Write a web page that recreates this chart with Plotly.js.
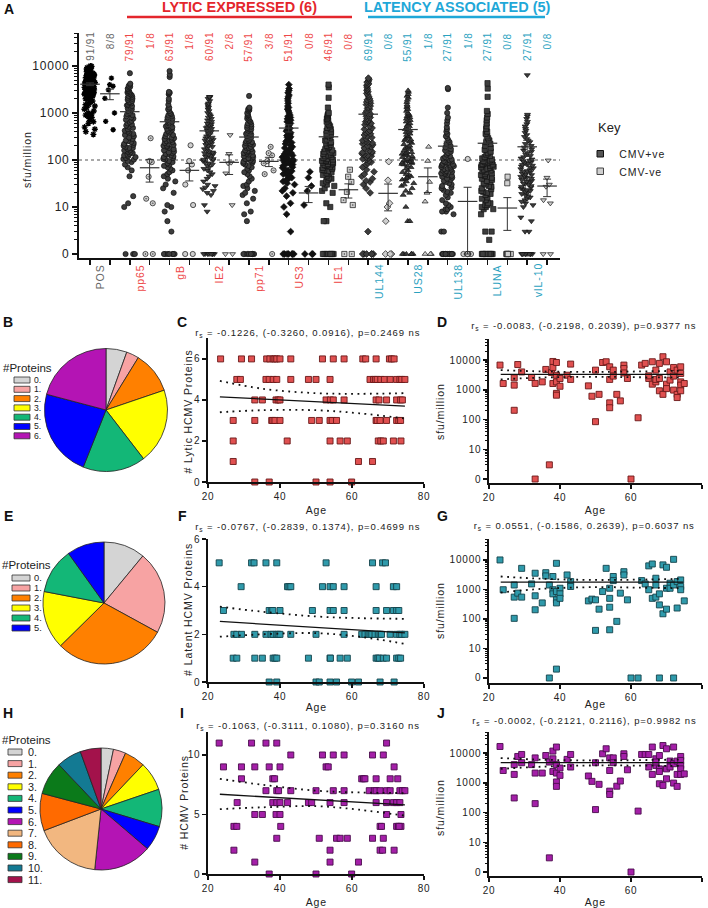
<!DOCTYPE html>
<html><head><meta charset="utf-8">
<script src="https://cdn.plot.ly/plotly-3.0.1.min.js"></script>
<style>
html,body{margin:0;padding:0;background:#fff;}
#chart{width:708px;height:908px;}
g[class$="tick"] > text{letter-spacing:0.8px;}
</style>
</head><body><div id="chart"></div>
<script>
// ---------------- DATA ----------------
const groups = ['POS','pp65','gB','IE2','pp71','US3','IE1','UL144','US28','UL138','LUNA','vIL-10'];
const posCounts = ['91/91','79/91','63/91','60/91','57/91','51/91','46/91','69/91','55/91','27/91','27/91','27/91'];
const negCounts = ['8/8','1/8','1/8','2/8','3/8','0/8','0/8','0/8','1/8','1/8','0/8','0/8'];

const POS_pos = [10000,9800,9500,9200,9000,8800,8600,8400,8200,8000,7800,7600,7400,7200,7000,6800,6600,6500,6400,6200,6000,5900,5800,5600,5500,5400,5200,5100,5000,4900,4800,4700,4600,4500,4400,4300,4200,4100,4000,3900,3800,3700,3600,3500,3400,3300,3200,3100,3000,3000,2900,2800,2700,2600,2500,2500,2400,2300,2200,2100,2000,2000,1900,1800,1700,1600,1500,1400,1300,1200,1100,1000,950,900,850,800,700,650,600,500,450,400,350,6300,5700,4400,3600,2800,3300,2600,1500];
const POS_neg = [5500,4000,3700,3100,2040,1000,660,440];
const pp65_pos = [7000,4200,4000,3800,3600,3500,3300,3200,3000,2900,2800,2700,2600,2500,2400,2300,2200,2100,2000,1900,1800,1700,1650,1600,1500,1450,1400,1300,1250,1200,1100,1050,1000,950,900,850,800,760,720,680,640,600,570,540,510,480,450,420,400,380,360,340,320,300,280,260,250,240,230,220,210,200,190,180,170,160,150,145,140,135,130,125,120,115,110,105,102,180,160,95,90,80,70,60,45,17,12,10,0,0,0];
const pp65_neg = [290,95,90,44,15,12,0,0];
const gB_pos = [7800,6500,5800,2800,2700,2600,2500,2000,1800,1500,1300,1200,1100,1000,950,900,850,800,750,700,650,620,600,580,550,520,500,480,460,440,420,400,380,360,340,320,300,290,280,270,260,250,240,230,220,210,200,190,180,170,160,150,145,140,135,130,125,120,115,110,105,102,200,95,90,85,80,75,70,65,60,55,50,45,40,35,30,25,20,11,10,8,5,3,0,0,0,0,0,0,0];
const gB_neg = [205,95,80,60,30,11,0,0];
const IE2_pos = [2200,2200,2100,2000,1800,1600,1500,1400,1300,1200,1100,1000,950,900,850,800,750,700,650,600,580,560,540,520,500,480,460,440,420,400,380,360,340,320,300,290,280,270,260,250,240,230,220,210,200,190,180,170,160,150,145,140,135,130,125,120,115,110,105,102,98,95,90,85,80,75,70,65,60,55,50,45,40,35,30,28,26,24,22,20,18,11,8,0,0,0,0,0,0,0,0];
const IE2_neg = [340,135,88,85,52,11,0,0];
const pp71_pos = [2300,1300,1250,1200,1150,1100,1000,950,900,850,800,760,720,680,640,600,570,540,510,480,450,420,400,380,360,340,320,300,285,270,255,240,230,220,210,200,190,180,170,160,155,150,145,140,135,130,125,120,115,110,108,105,102,250,350,450,180,98,95,92,88,85,80,75,70,65,60,55,50,45,40,35,30,28,25,22,20,18,15,12,8,7,5,0,0,0,0,0,0,0,0];
const pp71_neg = [190,140,125,95,85,60,50,0];
const US3_pos = [4000,3300,3000,2700,2400,2200,2000,1800,1600,1400,1300,1200,1100,1000,900,850,800,750,700,650,600,550,500,470,440,410,380,350,330,310,290,270,250,235,220,205,190,180,170,160,150,140,135,130,125,120,115,110,105,102,300,98,95,92,90,88,85,82,80,75,70,68,65,60,58,55,52,50,48,45,42,40,38,35,32,30,25,22,20,17,12,10,7,3,0,0,0,0,0,0,0];
const US3_neg = [56,42,28,22,11,0,0,0];
const IE1_pos = [4000,3500,2100,1300,1000,950,900,850,800,750,700,650,600,560,520,480,450,420,390,360,340,320,300,280,260,240,225,210,200,190,180,170,160,150,145,140,135,130,125,120,115,110,105,102,230,330,98,96,94,92,90,88,85,82,80,78,75,72,70,68,65,62,60,58,55,52,50,48,45,42,40,38,35,32,30,28,25,22,20,12,10,5,5,0,0,0,0,0,0,0,0];
const IE1_neg = [62,44,34,21,14,11,0,0];
const UL144_pos = [5500,5200,4800,4500,4200,4000,3800,3500,3200,3000,2800,2600,2400,2200,2000,1900,1800,1700,1600,1500,1400,1300,1200,1100,1000,950,900,850,800,750,700,650,600,560,520,480,450,420,400,380,360,340,320,300,280,260,250,240,230,220,210,200,190,180,170,160,150,145,140,135,130,125,120,115,110,105,102,1250,650,95,90,85,80,70,62,56,50,45,40,36,34,30,25,20,3,0,0,0,0,0,0];
const UL144_neg = [92,37,12,10,5,0,0,0];
const US28_pos = [3000,2800,2500,2300,2100,1900,1700,1500,1400,1300,1200,1100,1000,950,900,850,800,750,700,650,600,560,520,480,450,420,390,360,340,320,300,280,260,245,230,215,200,190,180,170,160,150,145,140,135,130,125,120,115,110,105,102,400,550,270,98,95,92,90,88,85,82,80,75,70,65,60,55,50,48,45,42,40,38,35,32,30,28,25,22,20,18,10,5,5,0,0,0,0,0,0];
const US28_neg = [190,95,34,20,13,0,0,0];
const UL138_pos = [3400,3200,1300,1000,800,700,600,500,450,400,360,320,290,260,240,220,200,185,170,160,150,140,130,120,115,108,103,98,95,93,90,88,85,83,80,78,76,74,71,69,66,64,62,60,58,56,54,52,50,48,46,44,42,40,38,36,34,32,30,28,26,25,23,21,20,18,16,14,12,11,10,9,9,8,8,7,3,3,0,0,0,0,0,0,0,0,0,0,0,0,0];
const UL138_neg = [105,0,0,0,0,0,0,0];
const LUNA_pos = [4300,3300,2200,1100,950,800,700,600,520,460,400,360,320,290,260,240,220,200,180,165,150,140,130,122,115,108,103,98,95,92,90,88,85,82,80,78,75,72,70,68,65,62,60,58,55,52,50,48,46,44,42,40,38,36,34,32,30,28,27,25,24,22,21,20,19,18,16,15,14,12,12,11,11,10,10,9,9,7,3,3,2,0,0,0,0,0,0,0,0,0,0];
const LUNA_neg = [44,32,0,0,0,0,0,0];
const vIL10_pos = [6400,920,850,750,650,580,520,460,420,380,340,310,280,260,240,220,200,185,170,160,150,140,130,122,115,108,103,97,94,91,88,85,82,79,76,73,70,67,64,61,58,55,52,50,48,46,44,42,40,38,36,34,32,30,28,26,25,24,23,22,21,20,19,18,17,16,15,14,13,12,11,10,6,5,3,3,27,31,35,43,57,0,0,0,0,0,0,0,0,0,0];
const vIL10_neg = [98,42,30,27,14,12,0,0];

const posData = [POS_pos,pp65_pos,gB_pos,IE2_pos,pp71_pos,US3_pos,IE1_pos,UL144_pos,US28_pos,UL138_pos,LUNA_pos,vIL10_pos];
const negData = [POS_neg,pp65_neg,gB_neg,IE2_neg,pp71_neg,US3_neg,IE1_neg,UL144_neg,US28_neg,UL138_neg,LUNA_neg,vIL10_neg];

// pies: number of donors responding to n proteins
const lyticPie = [5,3,10,18,15,21,19];
const latentPie = [10,20,27,14,11,9];
const totalPie = [3,3,5,7,9,6,14,16,9,8,6,5];

// C / F / I : ages grouped by number of proteins recognised
const lyticAgesByCount = [
 [33,37,50,53.9,59.9],
 [27,61.8,65.7],
 [27,42,53.9,56.7,58.7,67.3,68,68.7,71.5,73.6],
 [27,33,37.7,38,38.6,40,48.8,50.9,53.9,54.5,55.7,66.7,67,67.8,69.6,72.4,73,73.5],
 [33,35.1,38.9,39.5,40,52.8,54,54.8,57.8,66.7,67.5,69.6,72.4,73.5,74],
 [28,29,36.1,37,38.1,39.1,43,47.9,50,53.9,65,66,66.5,67,68,69,70.6,72.4,73.3,73.8,74.7],
 [23.5,29.3,32.1,36.3,37.2,38.1,38.6,39.1,40,43,51.8,54.8,57.8,63,63.8,66.7,70.4,71,71.7]
];
const latentAgesByCount = [
 [37,39.1,50,50.9,53.9,55.7,59.9,61.8,67.8,71.7],
 [27,28,33,35.1,38.1,38.6,39.1,47.9,53.9,54,56.7,58.7,66.7,67.2,67.6,68.7,69.6,72.4,73,73.5],
 [27.2,28,29.3,33,36.1,37.5,38.1,39.1,39.5,40,43,50,57.8,62.7,63.6,64.5,65,65.5,66.4,67.3,67.8,68.2,70.6,72.4,73.3,73.8,74.7],
 [24.3,37,37.7,38,40,49,53.9,54.8,57.8,66.7,69.6,71.5,72.4,73],
 [29.2,42.1,42.5,43,51.8,53.9,54.8,57.8,66.7,71.5,72.4],
 [23.1,32.1,32.8,36.1,39.1,52.8,65.7,68.5,69.3]
];
const totalAgesByCount = [
 [37,50,59.9],
 [33,53.9,61.8],
 [27.2,53.9,67.8,71.7,68.5],
 [39.1,50.9,55.7,56.7,58.7,65.7,68.7],
 [27.2,67.8,72.4,73.6,72.9,68.2,28,40.2,73.1],
 [33,35.1,38.9,40,69.6,73.6],
 [28.1,38,39.1,40,42.1,47.9,48.8,53.9,57.8,66.7,69.6,71.5,72.4,73.3],
 [36.1,39.1,39.6,43,50,54.8,57.8,64.8,66.2,66.7,67.8,69.6,70.6,73.3,74,74.7],
 [29.3,38,38.5,62.7,63.2,63.6,66.7,70.6,72.7],
 [24.3,29.3,33,37,40,52.8,53.4,71.7],
 [43,51.8,54.8,57.8,65.7,68.7],
 [23.1,32.1,36.1,39.1,69.6]
];

// D / G / J : [age, sfu/million]
const lyticSfu = [[23.1,6800],[24,1630],[27.1,2530],[27.1,1440],[27.1,205],[28.1,7100],[29.2,4000],[32,2600],[33,1640],[33,0],[35,1850],[36,4850],[37,3],[37.6,3850],[38,9000],[38,5650],[38,1630],[39,8300],[39,3100],[39,1850],[39,760],[39,660],[40,2410],[40,1320],[42,3100],[43,7350],[43,2240],[48,1360],[49,610],[50,4600],[50,85],[51,705],[52,8300],[53,8800],[54,5950],[54,2240],[54,365],[54,250],[55,4600],[55,2900],[56,705],[57,425],[58,6800],[58,5200],[58,3700],[59,2410],[60,0],[62,115],[63,6800],[64,7750],[65,2410],[65,2960],[66,8800],[66,1550],[67,4600],[67,1850],[67,2240],[68,7750],[68,2410],[68,930],[69,13000],[69,705],[70,8800],[70,1550],[70,1100],[71,4000],[71,2130],[72,5650],[72,980],[72,2900],[73,4600],[73,705],[73,550],[74,5950],[74,3550],[74,1850],[74,1440],[74,930],[75,1630]];
const latentSfu = [[23.1,10000],[24,980],[27.1,1420],[27.1,550],[27.1,105],[28.1,750],[29.2,5200],[29.2,550],[32,1540],[33,3550],[33,610],[33,205],[35,350],[36,3700],[36,2880],[37,1420],[37,0],[38,2750],[38,980],[38,710],[39,7700],[39,850],[39,445],[39,350],[39,2],[40,1100],[40,710],[40,500],[42,3100],[43,1850],[43,1260],[48,410],[49,470],[50,445],[50,41],[51,215],[52,850],[53,5200],[54,1100],[54,500],[54,250],[54,43],[55,2750],[55,2000],[56,83],[57,750],[58,4000],[58,3100],[59,445],[60,0],[62,0],[63,2000],[64,1540],[65,6300],[65,980],[66,7300],[66,500],[67,2400],[67,1420],[67,550],[68,710],[68,300],[68,0],[69,6800],[69,150],[70,5650],[70,1100],[70,215],[71,1630],[71,1100],[72,10500],[72,1420],[72,0],[73,1850],[73,235],[74,2100],[74,1260],[74,980],[75,410]];
const totalSfu = [[23.1,16700],[24,2600],[27.1,4100],[27.1,1920],[27.1,310],[28.1,7700],[29.2,9000],[29.2,4750],[32,4100],[33,6900],[33,2130],[33,200],[35,2130],[36,8300],[37,5000],[37,3],[38,11700],[38,6450],[38,2400],[39,16000],[39,4100],[39,1070],[39,760],[39,2130],[40,3150],[40,1780],[42,6150],[43,9000],[43,3400],[48,1700],[49,1120],[50,4750],[50,126],[51,890],[52,9500],[53,14000],[54,6900],[54,2600],[54,525],[54,405],[55,6900],[55,4750],[56,770],[57,1150],[58,9500],[58,7700],[59,2750],[60,0],[62,112],[63,9000],[64,9000],[65,9000],[65,3400],[66,16000],[66,1920],[67,6450],[67,3850],[67,5000],[68,8300],[68,2950],[68,2400],[68,930],[69,18000],[69,820],[70,14000],[70,2950],[70,1370],[71,5400],[71,3400],[72,16000],[72,980],[72,4400],[73,5400],[73,1920],[73,760],[74,7700],[74,5650],[74,3850],[74,2950],[74,1920],[75,2000]];

// regression fits and 95% bands
const fitAges = [23.3,74.7];
const bandAges = [23.3,35,50,62,74.7];
const lyticFit = [4.15,3.7], lyticUp = [4.93,4.55,4.33,4.3,4.33], lyticLo = [3.4,3.5,3.5,3.35,3.1];
const latentFit = [2.54,2.06], latentUp = [3.16,2.95,2.75,2.68,2.65], latentLo = [1.9,2.0,2.05,1.9,1.6];
const totalFit = [6.7,5.8], totalUp = [8.0,7.5,7.0,6.85,6.8], totalLo = [5.45,5.6,5.7,5.4,4.9];
const lyticSfuFit = [3300,3300], lyticSfuUp = [4600,4150,4000,4150,4400], lyticSfuLo = [2240,2600,2740,2650,2600];
const latentSfuFit = [1780,1780], latentSfuUp = [2750,2300,2100,2150,2300], latentSfuLo = [790,1050,1200,1150,1100];
const totalSfuFit = [4750,4750], totalSfuUp = [6800,6000,5650,5800,6100], totalSfuLo = [2950,3500,3850,3800,3700];

const statsText = {
  C:'r<sub>s</sub> = -0.1226, (-0.3260, 0.0916), p=0.2469 ns',
  D:'r<sub>s</sub> = -0.0083, (-0.2198, 0.2039), p=0.9377 ns',
  F:'r<sub>s</sub> = -0.0767, (-0.2839, 0.1374), p=0.4699 ns',
  G:'r<sub>s</sub> = 0.0551, (-0.1586, 0.2639), p=0.6037 ns',
  I:'r<sub>s</sub> = -0.1063, (-0.3111, 0.1080), p=0.3160 ns',
  J:'r<sub>s</sub> = -0.0002, (-0.2121, 0.2116), p=0.9982 ns'
};

// ---------------- STYLE ----------------
const W=708, H=908;
const X = px => px/W, Y = py => 1 - py/H;
const FONT = '"Liberation Sans", Arial, Helvetica, sans-serif';
const RED='#e4262c', REDL='#ee4848', CYAN='#1fa8d8', TEAL='#2aa2bf', GRAYT='#666';
const DARK='#3d3d3d', LIGHT='#cfcfcf';
const posSym = ['asterisk-open','circle','circle','triangle-down','circle','diamond','square','diamond','triangle-up','circle','square','triangle-down'];
const negSym = ['asterisk-open','circle-dot','circle','triangle-down','circle-dot','diamond','square-dot','diamond','triangle-up','circle','square','triangle-down'];
const pieColors = ['#d4d4d4','#f7a3a3','#ff8000','#ffff00','#13b777','#0000ff','#b414b4','#f2b780','#ff6a00','#0b7a1a','#137a93','#a3124b'];

const traces = [];
const ann = [];
const spaced = [];
const shapes = [];

function txt(text, px, py, opts, isSpaced){
  const a = Object.assign({text:text, x:X(px), y:Y(py), xref:'paper', yref:'paper', showarrow:false,
    xanchor:'center', yanchor:'middle', borderpad:0, font:{family:FONT,size:10,color:'#222'}}, opts||{});
  if(isSpaced!==false) spaced.push(ann.length);
  ann.push(a);
}
const z = v => v < 1 ? 1 : v;

// ---------------- PANEL A ----------------
function colColor(g){ return g===0 ? GRAYT : (g<=6 ? REDL : TEAL); }
function addColumn(vals, col, sym, isPos, g){
  const black = (g===0 || g===5);
  const isAst = sym.indexOf('asterisk')===0;
  traces.push({type:'box', x:vals.map(()=>col), y:vals.map(z), xaxis:'x', yaxis:'y',
    boxpoints:'all', jitter:1, pointpos:0, width:0.66, whiskerwidth:0,
    fillcolor:'rgba(0,0,0,0)', line:{width:0,color:'rgba(0,0,0,0)'},
    marker:{symbol:sym, size:isAst?(isPos?5:4.5):5.2,
      color: isAst ? '#000' : (black ? '#111' : (isPos ? DARK : LIGHT)),
      line:{color: isAst ? '#000' : '#111', width: isAst?1.4:0.7}},
    hoverinfo:'skip', showlegend:false});
  const n = vals.length;
  const mean = vals.reduce((a,b)=>a+b,0)/n;
  const sd = Math.sqrt(vals.reduce((a,b)=>a+(b-mean)*(b-mean),0)/(n-1));
  const sem = sd/Math.sqrt(n);
  const m = Math.max(mean,1);
  traces.push({type:'scatter', mode:'markers', x:[col], y:[m], xaxis:'x', yaxis:'y', cliponaxis:false,
    marker:{symbol:'line-ew', size:14, color:'#333', line:{color:'#333', width:1.2}},
    error_y:{type:'data', symmetric:false, array:[sem], arrayminus:[Math.min(sem, m-1)], color:'#333', thickness:1, width:4},
    hoverinfo:'skip', showlegend:false});
}
groups.forEach((g,i)=>{
  addColumn(posData[i], 2*i, posSym[i], true, i);
  addColumn(negData[i], 2*i+1, negSym[i], false, i);
  const c = colColor(i);
  txt(posCounts[i], 0, 33, {xref:'x', x:2*i, yanchor:'top', textangle:-90, font:{family:FONT,size:10,color:c}});
  txt(negCounts[i], 0, 33, {xref:'x', x:2*i+1, yanchor:'top', textangle:-90, font:{family:FONT,size:10,color:c}});
  txt(g, 0, 265, {xref:'x', x:2*i+0.5, yanchor:'top', textangle:-90, font:{family:FONT,size:10.5,color:c}});
});
// threshold line at 100 sfu
shapes.push({type:'line', xref:'x domain', yref:'y', x0:0, x1:1, y0:100, y1:100, line:{color:'#555', width:1.1, dash:'3px,3px'}, layer:'below'});
// headers
txt('LYTIC EXPRESSED (6)', 239, 7.5, {font:{family:FONT,size:14.5,color:RED,weight:'bold'}}, false);
txt('LATENCY ASSOCIATED (5)', 457, 7.5, {font:{family:FONT,size:14.5,color:CYAN,weight:'bold'}}, false);
shapes.push({type:'line', xref:'paper', yref:'paper', x0:X(127), x1:X(352), y0:Y(17), y1:Y(17), line:{color:RED, width:2.5}});
shapes.push({type:'line', xref:'paper', yref:'paper', x0:X(368), x1:X(545), y0:Y(17), y1:Y(17), line:{color:CYAN, width:2.5}});
txt('sfu/million', 27, 160, {textangle:-90, font:{family:FONT,size:10.5,color:'#222'}});
// key
txt('Key', 597, 128, {xanchor:'left', font:{family:FONT,size:13,color:'#222'}}, false);
shapes.push({type:'rect', xref:'paper', yref:'paper', x0:X(597), x1:X(603.5), y0:Y(157), y1:Y(150.5), fillcolor:'#555', line:{color:'#111', width:1}});
shapes.push({type:'rect', xref:'paper', yref:'paper', x0:X(597), x1:X(603.5), y0:Y(174.5), y1:Y(168), fillcolor:LIGHT, line:{color:'#444', width:1}});
txt('CMV+ve', 621, 154, {xanchor:'left', font:{family:FONT,size:10.5,color:'#222'}});
txt('CMV-ve', 621, 172, {xanchor:'left', font:{family:FONT,size:10.5,color:'#222'}});

// ---------------- PIES ----------------
function addPie(counts, cx, cy, r, legX, legTitleY, item0, dy, swX0, swX1, txX, fs){
  const labels = counts.map((_,i)=>i+'.');
  traces.push({type:'pie', values:counts, labels:labels, sort:false, direction:'clockwise', rotation:0,
    textinfo:'none', hoverinfo:'skip', showlegend:false,
    marker:{colors:pieColors.slice(0,counts.length), line:{color:'#222', width:0.8}},
    domain:{x:[X(cx-r), X(cx+r)], y:[Y(cy+r), Y(cy-r)]}});
  txt('#Proteins', legX, legTitleY, {xanchor:'left', font:{family:FONT,size:11.5,color:'#222'}}, false);
  counts.forEach((_,i)=>{
    const yy = item0 + i*dy;
    shapes.push({type:'rect', xref:'paper', yref:'paper', x0:X(swX0), x1:X(swX1), y0:Y(yy+3), y1:Y(yy-3),
      fillcolor:pieColors[i], line:{color:'#333', width:0.8}});
    txt(labels[i], txX, yy, {xanchor:'left', font:{family:FONT,size:fs,color:'#222'}}, false);
  });
}
addPie(lyticPie, 106, 410, 61.5, 2, 368, 380, 9.3, 14, 30, 33, 8.6);
addPie(latentPie, 104, 603, 61, 1, 565, 578, 10, 12, 30, 33, 9.3);
addPie(totalPie, 101, 809, 61, 1, 740, 752, 11.6, 8, 22, 27, 10.8);

// ---------------- SCATTER PANELS ----------------
const SQ = {C:['#e05050','#6a1818'], F:['#2f9aab','#14434b'], I:['#a41fa8','#4a0c4c']};
function countTrace(groupsByCount, xa, ya, col){
  const xs=[], ys=[];
  groupsByCount.forEach((ages,n)=>ages.forEach(a=>{xs.push(a); ys.push(n);}));
  traces.push({type:'scatter', mode:'markers', x:xs, y:ys, xaxis:xa, yaxis:ya, cliponaxis:false,
    marker:{symbol:'square', size:6, color:col[0], line:{color:col[1], width:0.9}}, hoverinfo:'skip', showlegend:false});
}
function sfuTrace(pairs, xa, ya, col){
  traces.push({type:'scatter', mode:'markers', x:pairs.map(p=>p[0]), y:pairs.map(p=>z(p[1])), xaxis:xa, yaxis:ya, cliponaxis:false,
    marker:{symbol:'square', size:6, color:col[0], line:{color:col[1], width:0.9}}, hoverinfo:'skip', showlegend:false});
}
function fitTraces(fy, up, lo, xa, ya){
  traces.push({type:'scatter', mode:'lines', x:fitAges, y:fy, xaxis:xa, yaxis:ya, cliponaxis:false, line:{color:'#111', width:1.3}, hoverinfo:'skip', showlegend:false});
  [up,lo].forEach(b=>traces.push({type:'scatter', mode:'lines', x:bandAges, y:b, xaxis:xa, yaxis:ya, cliponaxis:false,
    line:{color:'#111', width:1.8, dash:'1.8px,4.5px', shape:'spline'}, hoverinfo:'skip', showlegend:false}));
}
countTrace(lyticAgesByCount,'x2','y2',SQ.C); fitTraces(lyticFit,lyticUp,lyticLo,'x2','y2');
sfuTrace(lyticSfu,'x3','y3',SQ.C); fitTraces(lyticSfuFit,lyticSfuUp,lyticSfuLo,'x3','y3');
countTrace(latentAgesByCount,'x4','y4',SQ.F); fitTraces(latentFit,latentUp,latentLo,'x4','y4');
sfuTrace(latentSfu,'x5','y5',SQ.F); fitTraces(latentSfuFit,latentSfuUp,latentSfuLo,'x5','y5');
countTrace(totalAgesByCount,'x6','y6',SQ.I); fitTraces(totalFit,totalUp,totalLo,'x6','y6');
sfuTrace(totalSfu,'x7','y7',SQ.I); fitTraces(totalSfuFit,totalSfuUp,totalSfuLo,'x7','y7');

// panel texts
const L = (t,px,py)=>txt(t,px,py,{font:{family:FONT,size:14,color:'#111',weight:'bold'}},false);
L('A',8.5,8.5); L('B',8,322); L('C',182,322); L('D',442,322);
L('E',8,516); L('F',182,516); L('G',442,516); L('H',8,713); L('I',182,713); L('J',441,713);
const stat = (t,px,py)=>txt(t,px,py,{font:{family:FONT,size:9.5,color:'#222'}});
stat(statsText.C,308,333); stat(statsText.D,584,326);
stat(statsText.F,308,527); stat(statsText.G,584,526);
stat(statsText.I,308,726); stat(statsText.J,584,721);
const at = (t,px,py,rot)=>txt(t,px,py,{textangle:rot||0,font:{family:FONT,size:10.5,color:'#222'}});
at('Age',316,510); at('Age',595,510); at('Age',316,707); at('Age',595,704); at('Age',316,902); at('Age',595,902);
at('# Lytic HCMV Proteins',188,412,-90); at('# Latent HCMV Proteins',188,610,-90); at('# HCMV Proteins',184,803,-90);
at('sfu/million',440,412,-90); at('sfu/million',440,611,-90); at('sfu/million',440,808,-90);

// ---------------- AXES ----------------
function ax(domain, range, anchor, extra){
  return Object.assign({domain:domain, range:range, anchor:anchor, showline:true, linecolor:'#111', linewidth:1.6,
    ticks:'outside', ticklen:4, tickwidth:1.5, tickcolor:'#111', showgrid:false, zeroline:false, fixedrange:true,
    tickfont:{family:FONT,size:10,color:'#222'}}, extra||{});
}
const logMinor = [2,3,4,5,6,7,8,9,20,30,40,50,60,70,80,90,200,300,400,500,600,700,800,900,2000,3000,4000,5000,6000,7000,8000,9000,20000,30000,40000,50000];
const logTicks = {type:'log', tickvals:[1,10,100,1000,10000], ticktext:['0','10','100','1000','10000'],
  minor:{tickvals:logMinor, ticks:'outside', ticklen:2.5, tickwidth:1, tickcolor:'#111'}};
const ageX = {tickvals:[20,40,60,80]};
const cols = [];
for(let i=0;i<24;i++) cols.push(i);

const layout = {
  width:W, height:H, margin:{l:0,r:0,t:0,b:0}, paper_bgcolor:'#fff', plot_bgcolor:'rgba(0,0,0,0)',
  showlegend:false, font:{family:FONT,size:10,color:'#222'}, boxmode:'overlay',
  xaxis: ax([X(79),X(560)],[-0.554,23.65],'y',{tickvals:cols, showticklabels:false, ticklen:5, linewidth:2}),
  yaxis: ax([Y(258),Y(33)],[-0.085,4.70],'x',Object.assign({},logTicks,{linewidth:2, ticklen:5, tickfont:{family:FONT,size:12,color:'#222'},
    minor:{tickvals:logMinor, ticks:'outside', ticklen:3, tickwidth:1, tickcolor:'#111'}})),
  xaxis2: ax([X(208),X(424)],[20,80],'y2',ageX),
  yaxis2: ax([Y(482),Y(338)],[0,7.02],'x2',{tickvals:[0,2,4,6]}),
  xaxis3: ax([X(489),X(702)],[20,80],'y3',ageX),
  yaxis3: ax([Y(483),Y(339)],[-0.134,4.71],'x3',logTicks),
  xaxis4: ax([X(208),X(424)],[20,80],'y4',ageX),
  yaxis4: ax([Y(682),Y(539)],[0,6],'x4',{tickvals:[0,2,4,6]}),
  xaxis5: ax([X(489),X(702)],[20,80],'y5',ageX),
  yaxis5: ax([Y(683),Y(539)],[-0.17,4.71],'x5',logTicks),
  xaxis6: ax([X(208),X(424)],[20,80],'y6',ageX),
  yaxis6: ax([Y(874),Y(732)],[0,11.93],'x6',{tickvals:[0,5,10]}),
  xaxis7: ax([X(489),X(702)],[20,80],'y7',ageX),
  yaxis7: ax([Y(876),Y(732)],[-0.134,4.71],'x7',logTicks),
  annotations: ann, shapes: shapes
};

// letter-spacing for the GraphPad-style labels
const css = spaced.map(i=>'g.annotation[data-index="'+i+'"] text{letter-spacing:0.9px;}').join('\n');
const st = document.createElement('style'); st.textContent = css; document.head.appendChild(st);

Plotly.newPlot('chart', traces, layout, {staticPlot:true, displayModeBar:false});
</script></body></html>
